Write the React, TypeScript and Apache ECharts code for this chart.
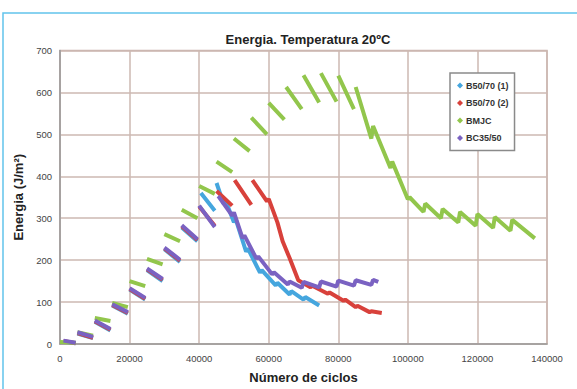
import React, { useEffect, useRef } from "react";
import * as echarts from "echarts";

const titleText = "Energia. Temperatura 20ºC";
const xAxisName = "Número de ciclos";
const yAxisName = "Energia (J/m²)";
const seriesNames = ["B50/70 (1)", "B50/70 (2)", "BMJC", "BC35/50"];
const seriesColors = ["#45a6de", "#d8413b", "#92c64c", "#7a62c2"];

// Rising steps are [x start, y start, x end, y end]; falling parts are [x, y] points.

// B50/70 (1)
const b5070aSteps: [number, number, number, number][] = [
  [1000, 6, 4500, 2], [5000, 25, 9500, 14], [10000, 53, 14500, 32], [15000, 92, 19500, 72],
  [20000, 130, 24500, 106], [25000, 176, 29500, 150], [30000, 226, 34500, 196],
  [35000, 278, 39500, 245], [40500, 360, 44500, 318],
];
const b5070aTail: [number, number][] = [
  [45000, 384], [47000, 335], [47500, 345], [50000, 290], [50500, 298], [53500, 220],
  [54000, 228], [57500, 170], [58000, 176], [62000, 140], [62500, 146], [66000, 118],
  [66500, 126], [70000, 106], [70500, 112], [74500, 92],
];

// B50/70 (2)
const b5070bSteps: [number, number, number, number][] = [
  [1000, 7, 4500, 2], [5000, 26, 9500, 15], [10000, 54, 14500, 34], [15000, 93, 19500, 74],
  [20000, 131, 24500, 108], [25000, 178, 29500, 153], [30000, 228, 34500, 199],
  [35000, 281, 39500, 248], [40000, 328, 44500, 282], [45000, 365, 49500, 330],
  [50200, 391, 55000, 332],
];
const b5070bTail: [number, number][] = [
  [55300, 391], [59500, 340], [60000, 346], [62500, 290], [64000, 245], [66000, 205],
  [68500, 152], [72000, 135], [72500, 139], [77000, 120], [77500, 123], [81500, 103],
  [82000, 106], [85000, 88], [85500, 91], [89000, 76], [89500, 78], [92500, 74],
];

// BMJC
const bmjcSteps: [number, number, number, number][] = [
  [0, 5, 4500, 3], [5000, 28, 9500, 20], [10000, 62, 14500, 55], [15000, 98, 19500, 88],
  [20000, 150, 24500, 138], [25000, 203, 29500, 190], [30000, 262, 34500, 245],
  [35000, 320, 39500, 300], [40000, 377, 44500, 358], [45000, 435, 49500, 410],
  [50000, 490, 54500, 460], [55000, 540, 59500, 500], [60000, 575, 64500, 535],
  [65000, 613, 69500, 560], [70000, 641, 74500, 576], [75000, 646, 79500, 578],
  [80000, 640, 84500, 560],
];
const bmjcTail: [number, number][] = [
  [85000, 613], [89500, 490], [90000, 520], [95000, 420], [95500, 435], [100000, 345],
  [100500, 350], [104500, 315], [105000, 335], [109500, 300], [110000, 322], [114500, 290],
  [115000, 315], [119500, 282], [120000, 310], [124500, 277], [125000, 303], [129500, 270],
  [130000, 296], [136500, 252],
];

// BC35/50
const bc3550Steps: [number, number, number, number][] = [
  [1000, 8, 4500, 3], [5000, 28, 9500, 17], [10000, 56, 14500, 36], [15000, 95, 19500, 76],
  [20000, 133, 24500, 110], [25000, 180, 29500, 155], [30000, 230, 34500, 201],
  [35000, 283, 39500, 250], [40000, 330, 44500, 279],
];
const bc3550Tail: [number, number][] = [
  [45500, 353], [49500, 306], [50000, 314], [52500, 252], [53000, 259], [56500, 203],
  [57000, 209], [61000, 166], [61500, 171], [65500, 142], [66000, 149], [69500, 134],
  [70000, 148], [74500, 135], [75000, 149], [79500, 137], [80000, 151], [84500, 139],
  [85000, 152], [89500, 141], [90000, 153], [91500, 148],
];

function build(steps: [number, number, number, number][], tail: [number, number][]) {
  const out: any[] = [];
  steps.forEach(([x0, y0, x1, y1]) => {
    out.push([x0, y0], [x1, y1], [x1, "-"]);
  });
  tail.forEach((p) => out.push(p));
  return out;
}

export default function App() {
  const ref = useRef<HTMLDivElement>(null);
  useEffect(() => {
    if (!ref.current) return;
    const chart = echarts.init(ref.current, undefined, { renderer: "svg" });

    const dataSets = [
      build(b5070aSteps, b5070aTail),
      build(b5070bSteps, b5070bTail),
      build(bmjcSteps, bmjcTail),
      build(bc3550Steps, bc3550Tail),
    ];
    const font = "Arial, 'Liberation Sans', sans-serif";

    chart.setOption({
      animation: false,
      backgroundColor: "#ffffff",
      title: {
        text: titleText,
        left: 303,
        textAlign: "center",
        top: 28,
        textStyle: { fontFamily: font, fontSize: 13, fontWeight: "bold", color: "#222" },
      },
      graphic: [
        {
          type: "rect",
          shape: { x: 3, y: 13, width: 620, height: 420 },
          style: { fill: "none", stroke: "#62c3ec", lineWidth: 1.5 },
          silent: true,
        },
      ],
      legend: {
        orient: "vertical",
        left: 450,
        top: 73,
        padding: [8, 6, 8, 7],
        itemWidth: 6,
        itemHeight: 6,
        itemGap: 8.5,
        backgroundColor: "#ffffff",
        borderColor: "#8a8a8a",
        borderWidth: 1.5,
        borderRadius: 0,
        textStyle: { fontFamily: font, fontSize: 9, fontWeight: "bold", color: "#333", padding: [0, 0, 0, -2] },
        data: seriesNames.map((n) => ({ name: n, icon: "diamond" })),
      },
      grid: {
        left: 60,
        right: 30,
        top: 50.5,
        bottom: 41,
        show: true,
        borderColor: "#c9b5ae",
        borderWidth: 1.5,
      },
      xAxis: {
        type: "value",
        min: 0,
        max: 140000,
        interval: 20000,
        name: xAxisName,
        nameLocation: "middle",
        nameGap: 27,
        nameTextStyle: { fontFamily: font, fontSize: 13, fontWeight: "bold", color: "#222" },
        axisLine: { show: true, lineStyle: { color: "#9a9a9a", width: 1.5 } },
        axisTick: { show: false },
        axisLabel: {
          fontFamily: font,
          fontSize: 9.5,
          color: "#444",
          margin: 9,
          formatter: (v: number) => String(v),
        },
        splitLine: { show: true, lineStyle: { color: "#cdb9b2", width: 1.5 } },
      },
      yAxis: {
        type: "value",
        min: 0,
        max: 700,
        interval: 100,
        name: yAxisName,
        nameLocation: "middle",
        nameRotate: 90,
        nameGap: 33,
        nameTextStyle: { fontFamily: font, fontSize: 13, fontWeight: "bold", color: "#222" },
        axisLine: { show: true, lineStyle: { color: "#9a9a9a", width: 1.5 } },
        axisTick: { show: false },
        axisLabel: { fontFamily: font, fontSize: 9.5, color: "#444", margin: 8 },
        splitLine: { show: true, lineStyle: { color: "#cdb9b2", width: 1.5 } },
      },
      series: seriesNames.map((name, i) => ({
        name,
        type: "line",
        data: dataSets[i],
        showSymbol: false,
        symbol: "diamond",
        symbolSize: 5,
        connectNulls: false,
        color: seriesColors[i],
        lineStyle: { width: 4, color: seriesColors[i] },
        z: i === 3 ? 5 : 2 + i,
      })),
    });
    return () => chart.dispose();
  }, []);
  return <div ref={ref} style={{ width: 577, height: 389, position: "absolute", left: 0, top: 0 }} />;
}
